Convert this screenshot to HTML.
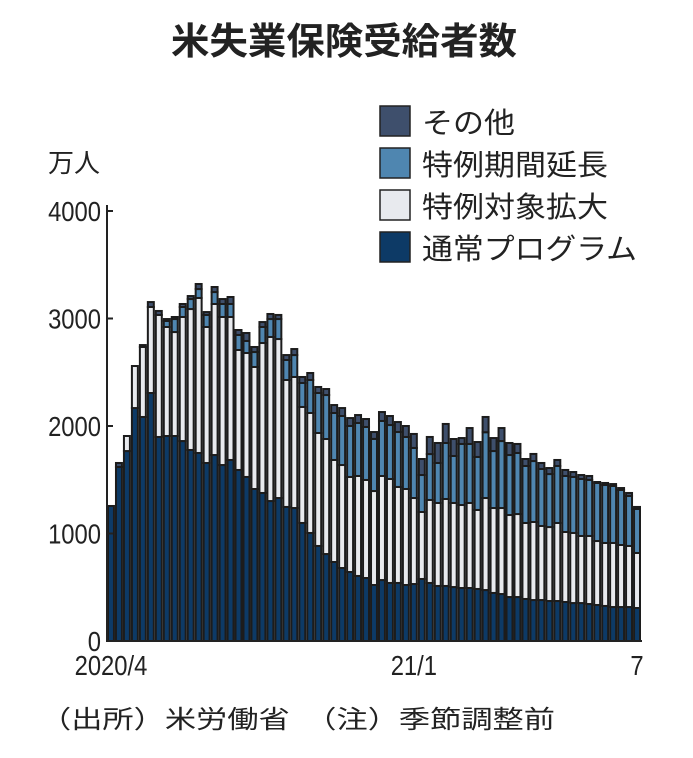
<!DOCTYPE html>
<html><head><meta charset="utf-8"><style>
body{margin:0;background:#fff;}
svg text{font-family:"Liberation Sans","Noto Sans CJK JP",sans-serif;fill:#222;}
</style></head><body>
<svg id="chart" width="693" height="753" viewBox="0 0 693 753" xmlns="http://www.w3.org/2000/svg">
<text x="344" y="54" text-anchor="middle" font-size="37" font-weight="bold" textLength="346" lengthAdjust="spacingAndGlyphs">米失業保険受給者数</text>
<text x="48" y="172" font-size="26">万人</text>
<g id="legend">
<rect x="380" y="106" width="30" height="30" fill="#3e4f6c" stroke="#222" stroke-width="1.5"/>
<text x="422" y="133" font-size="29" textLength="93" lengthAdjust="spacingAndGlyphs">その他</text>
<rect x="380" y="148" width="30" height="30" fill="#4f86b0" stroke="#222" stroke-width="1.5"/>
<text x="422" y="175" font-size="29" textLength="186" lengthAdjust="spacingAndGlyphs">特例期間延長</text>
<rect x="380" y="190" width="30" height="30" fill="#e8eaee" stroke="#222" stroke-width="1.5"/>
<text x="422" y="217" font-size="29" textLength="186" lengthAdjust="spacingAndGlyphs">特例対象拡大</text>
<rect x="380" y="232" width="30" height="30" fill="#0d3a66" stroke="#222" stroke-width="1.5"/>
<text x="422" y="259" font-size="29" textLength="215" lengthAdjust="spacingAndGlyphs">通常プログラム</text>
</g>
<g id="bars"></g>
<g id="axes"></g>
<text x="40" y="728" font-size="25" textLength="515" lengthAdjust="spacingAndGlyphs">（出所）米労働省　（注）季節調整前</text>
</svg>
<script>
const regular=[1256,1619,1767,2167,2084,2307,1898,1907,1907,1860,1777,1749,1656,1730,1637,1684,1591,1526,1414,1377,1302,1330,1247,1237,1098,1005,884,809,735,679,642,605,586,521,567,540,540,521,530,577,540,512,512,502,493,493,484,474,447,437,409,409,391,381,381,372,372,363,353,353,344,335,326,316,316,316,307];
const expanded=[0,0,140,391,651,800,1135,1014,967,1154,1311,1442,1265,1405,1377,1330,1116,1153,1135,1395,1526,1479,1181,1219,1079,1116,1051,1070,949,958,884,930,912,874,968,967,893,893,800,623,772,772,809,782,772,791,735,856,790,800,763,772,707,726,689,688,726,651,652,624,633,595,586,596,577,568,512];
const extended=[0,0,0,0,0,0,0,56,121,93,93,83,112,111,121,121,140,112,139,149,167,186,186,204,223,307,372,409,437,456,474,493,493,485,512,502,511,484,466,344,427,372,521,437,568,549,493,612,530,623,558,568,530,567,530,493,530,521,521,530,521,540,539,530,512,465,409];
const other=[0,37,0,0,18,46,37,18,19,28,28,47,27,47,46,65,46,74,47,46,47,38,46,56,56,65,56,56,74,74,74,74,74,64,83,84,93,102,130,149,159,186,177,158,55,148,139,142,121,121,112,84,65,66,56,56,56,56,46,37,37,9,19,18,18,28,19];
const yTicks=[0,1000,2000,3000,4000];
const xLabels=[{i:0,t:"2020/4"},{i:38,t:"21/1"},{i:66,t:"7"}];

const NS="http://www.w3.org/2000/svg";
const x0=107,x1=641,y0=641,yTop=211,yMax=4000;
const n=regular.length, pitch=(x1-x0)/n;
function yS(v){return y0-(v/yMax)*(y0-yTop);}
function xS(i){return x0+i*pitch;}
const bars=document.getElementById('bars');
const series=[["regular",regular,"#0d3a66"],["expanded",expanded,"#e8eaee"],["extended",extended,"#4f86b0"],["other",other,"#3e4f6c"]];
for(let i=0;i<n;i++){
  let cum=0;
  for(const [nm,arr,col] of series){
    const v=arr[i]; if(v<=0) continue;
    const r=document.createElementNS(NS,'rect');
    r.setAttribute('x',xS(i)+1);
    r.setAttribute('width',pitch-2);
    r.setAttribute('y',yS(cum+v));
    r.setAttribute('height',yS(cum)-yS(cum+v));
    r.setAttribute('fill',col);
    r.setAttribute('stroke','#1c1c1c');
    r.setAttribute('stroke-width','2');
    
    
    bars.appendChild(r);
    cum+=v;
  }
}
const axes=document.getElementById('axes');
function line(a,b,c,d,name){const l=document.createElementNS(NS,'line');l.setAttribute('x1',a);l.setAttribute('y1',b);l.setAttribute('x2',c);l.setAttribute('y2',d);l.setAttribute('stroke','#222');l.setAttribute('stroke-width','2');


axes.appendChild(l);}
line(x0,205,x0,y0+1,'y-axis-line');
line(x0,y0,x1+1,y0,'x-axis-line');
for(const t of yTicks){
  line(x0,yS(t),x0+6,yS(t),'y-tick');
  const tx=document.createElementNS(NS,'text');
  tx.setAttribute('x',101/0.85);tx.setAttribute('y',yS(t)+10);tx.setAttribute('text-anchor','end');tx.setAttribute('font-size','28');
  tx.setAttribute('transform','scale(0.85,1)');
  
  
  tx.textContent=t;axes.appendChild(tx);
}
for(const L of xLabels){
  const cx=xS(L.i)+pitch/2;
  const tx=document.createElementNS(NS,'text');
  tx.setAttribute('x',cx/0.85);tx.setAttribute('y',675);tx.setAttribute('text-anchor','middle');tx.setAttribute('font-size','28');
  tx.setAttribute('transform','scale(0.85,1)');
  
  
  tx.textContent=L.t;axes.appendChild(tx);
}
</script>
</body></html>
